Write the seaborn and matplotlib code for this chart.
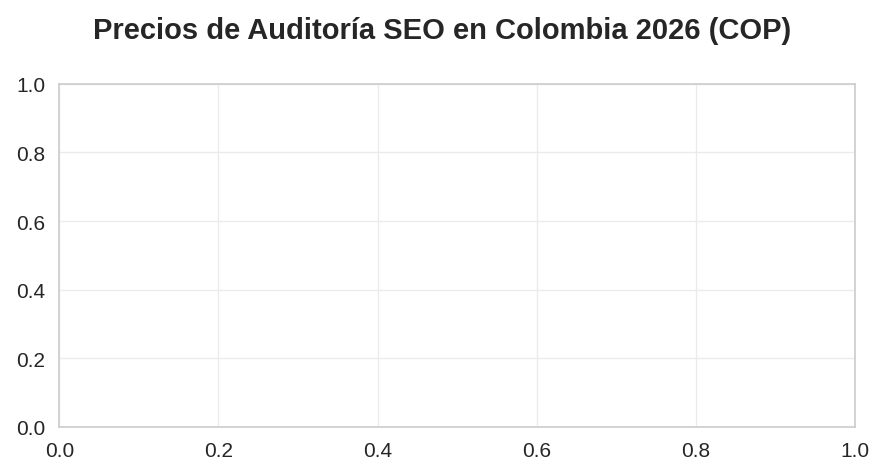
import matplotlib
matplotlib.use('Agg')
import matplotlib.pyplot as plt
import seaborn as sns

# The source chart has no data drawn, only an empty frame
categorias = []
precios = []

sns.set_theme(style='whitegrid')
plt.rcParams['font.family'] = ['Liberation Sans', 'DejaVu Sans']

fig, ax = plt.subplots(figsize=(8.85, 4.77), dpi=100)

sns.lineplot(x=categorias, y=precios, ax=ax)
ax.set_xlim(0, 1)
ax.set_ylim(0, 1)

# Customize plot
ax.grid(True, color='#ebebeb', linewidth=1)
for s in ax.spines.values():
    s.set_color('#cccccc')
    s.set_linewidth(1.2)
ax.tick_params(axis='both', labelsize=15, colors='#262626', pad=4)

fig.suptitle('Precios de Auditoría SEO en Colombia 2026 (COP)',
             fontsize=21, fontweight='bold', color='#262626', y=0.965)

fig.subplots_adjust(left=0.067, right=0.966, top=0.822, bottom=0.103)
fig.savefig('out.png', dpi=100)
plt.close(fig)
